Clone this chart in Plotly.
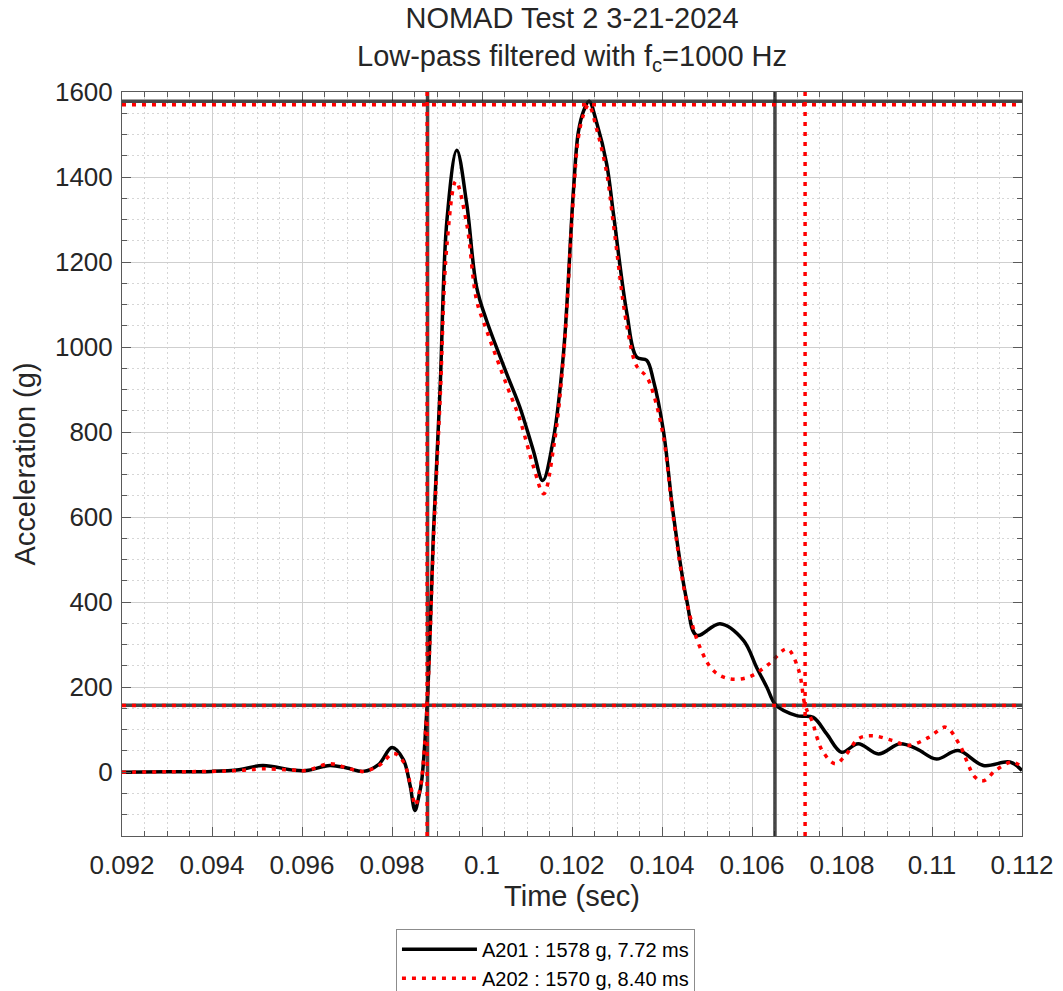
import plotly.graph_objects as go

# Sensor A201 (time in s, acceleration in g)
t_a201 = [0.0920, 0.0930, 0.0940, 0.0946, 0.09513, 0.0958, 0.0961, 0.09662, 0.0970, 0.09736,
          0.0977, 0.0980, 0.09825, 0.0984, 0.09851, 0.09860, 0.09866, 0.09878, 0.09884, 0.09892,
          0.09907, 0.09922, 0.09944, 0.09966, 0.09988, 0.10010, 0.10055, 0.10084, 0.10114, 0.10135,
          0.10158, 0.10181, 0.10203, 0.10214, 0.10226, 0.10238, 0.10255, 0.10277, 0.10292, 0.10322,
          0.10344, 0.10366, 0.10381, 0.10403, 0.10425, 0.10455, 0.10477, 0.10529, 0.10581, 0.10610,
          0.10633, 0.10653, 0.10699, 0.10736, 0.10766, 0.10799, 0.10836, 0.10881, 0.10929, 0.10966,
          0.11010, 0.11058, 0.11114, 0.11173, 0.11200]
acc_a201 = [0, 1, 2, 6, 16, 5, 4, 16, 10, 2,
            18, 58, 30, -30, -90, -55, -20, 158, 310, 561,
            906, 1298, 1463, 1337, 1141, 1063, 937, 859, 757, 686,
            780, 984, 1365, 1505, 1556, 1578, 1527, 1431, 1314, 1079,
            976, 969, 921, 804, 608, 404, 322, 349, 310, 247,
            200, 158, 133, 129, 90, 47, 67, 43, 67, 55,
            31, 51, 16, 24, 4]

# Sensor A202 (time in s, acceleration in g)
t_a202 = [0.0920, 0.0930, 0.0940, 0.0946, 0.09513, 0.0958, 0.0961, 0.09662, 0.0970, 0.09736,
          0.0977, 0.09804, 0.09825, 0.0984, 0.09852, 0.09860, 0.09866, 0.09878, 0.09884, 0.09892,
          0.09907, 0.09922, 0.09942, 0.09966, 0.09988, 0.10010, 0.10055, 0.10084, 0.10114, 0.10137,
          0.10160, 0.10181, 0.10203, 0.10214, 0.10226, 0.10237, 0.10255, 0.10277, 0.10292, 0.10322,
          0.10344, 0.10366, 0.10381, 0.10403, 0.10425, 0.10455, 0.10484, 0.10514, 0.10548, 0.10593,
          0.10638, 0.10678, 0.10704, 0.10718, 0.10733, 0.10756, 0.10785, 0.10807, 0.10837, 0.10867,
          0.10911, 0.10948, 0.10993, 0.11030, 0.11060, 0.11096, 0.11115, 0.11141, 0.11178, 0.11200]
acc_a202 = [0, 1, 2, 4, 8, 5, 4, 20, 10, 2,
            15, 44, 25, -25, -78, -50, -15, 157, 300, 540,
            880, 1240, 1390, 1290, 1110, 1040, 910, 830, 720, 655,
            770, 975, 1350, 1492, 1548, 1570, 1512, 1410, 1290, 1050,
            955, 930, 890, 790, 600, 400, 295, 239, 220, 224,
            255, 290, 239, 157, 122, 51, 20, 39, 79, 86,
            75, 63, 82, 106, 67, -12, -20, 4, 24, 12]

sensor_names = ["A201", "A202"]
peak_g = [1578, 1570]
duration_ms = [7.72, 8.40]
start_s = [0.09879, 0.09878]

x_tickvals = [0.092, 0.094, 0.096, 0.098, 0.100, 0.102, 0.104, 0.106, 0.108, 0.110, 0.112]
x_ticktext = ["0.092", "0.094", "0.096", "0.098", "0.1", "0.102", "0.104", "0.106", "0.108", "0.11", "0.112"]
y_tickvals = [0, 200, 400, 600, 800, 1000, 1200, 1400, 1600]
y_ticktext = ["0", "200", "400", "600", "800", "1000", "1200", "1400", "1600"]

FONT = "Liberation Sans, Arial, sans-serif"
RED_DOT = "4px,6px"
REF_GRAY = "rgba(30,30,30,0.82)"

fig = go.Figure()

series = [(t_a201, acc_a201, "black", "solid"), (t_a202, acc_a202, "#ff0000", RED_DOT)]
for i, (tt, aa, col, dash) in enumerate(series):
    fig.add_trace(go.Scatter(
        x=tt, y=aa, mode="lines",
        line=dict(color=col, width=3.5, dash=dash, shape="spline", smoothing=1.0),
        name=f"{sensor_names[i]} : {peak_g[i]} g, {duration_ms[i]:.2f} ms",
    ))

# Peak, 10 % threshold, and pulse start/end markers for each sensor
for i in range(2):
    is_black = i == 0
    col = REF_GRAY if is_black else "#ff0000"
    dash = "solid" if is_black else RED_DOT
    ln = dict(color=col, width=3.5, dash=dash)
    thr = 0.1 * peak_g[i]
    t_end = start_s[i] + duration_ms[i] / 1000.0
    fig.add_hline(y=peak_g[i], line=ln)
    fig.add_hline(y=thr, line=ln)
    fig.add_vline(x=start_s[i], line=ln)
    fig.add_vline(x=t_end, line=ln)

axis_common = dict(
    showline=True, linecolor="#5a5a5a", linewidth=1, mirror="ticks",
    ticks="inside", ticklen=9, tickcolor="#5a5a5a", tickwidth=1,
    showgrid=True, gridcolor="#cfcfcf", gridwidth=1.2,
    zeroline=False,
    tickfont=dict(family=FONT, size=26, color="#262626"),
)

fig.update_xaxes(
    range=[x_tickvals[0], x_tickvals[-1]],
    tickmode="array", tickvals=x_tickvals, ticktext=x_ticktext,
    ticklabelstandoff=6,
    minor=dict(dtick=0.0005, showgrid=True, gridcolor="#d6d6d6", griddash="2px,3px",
               ticks="inside", ticklen=5, tickcolor="#5a5a5a"),
    title=dict(text="Time (sec)", font=dict(family=FONT, size=29, color="#262626"), standoff=4),
    **axis_common,
)
fig.update_yaxes(
    range=[-150, 1600],
    tickmode="array", tickvals=y_tickvals, ticktext=y_ticktext,
    ticklabelstandoff=3,
    minor=dict(dtick=50, tick0=0, showgrid=True, gridcolor="#d6d6d6", griddash="2px,3px",
               ticks="inside", ticklen=5, tickcolor="#5a5a5a"),
    title=dict(text="Acceleration (g)", font=dict(family=FONT, size=29, color="#262626"), standoff=10),
    **axis_common,
)

fig.update_layout(
    width=1063, height=991,
    margin=dict(l=122, r=41, t=92, b=155, autoexpand=False),
    plot_bgcolor="white", paper_bgcolor="white",
    font=dict(family=FONT, color="#262626"),
    title=dict(text="NOMAD Test 2 3-21-2024", x=0.5, xanchor="center",
               xref="paper", yref="container", y=0.982, yanchor="middle",
               font=dict(family=FONT, size=29, color="#262626")),
    annotations=[dict(text="Low-pass filtered with f<sub>c</sub>=1000 Hz",
                      xref="paper", yref="paper", x=0.5, y=1.0453,
                      xanchor="center", yanchor="middle", showarrow=False,
                      font=dict(family=FONT, size=29, color="#262626"))],
    showlegend=True,
    legend=dict(x=0.3044, y=-0.1245, xanchor="left", yanchor="top",
                bgcolor="white", bordercolor="#8c8c8c", borderwidth=1,
                font=dict(family=FONT, size=20, color="black"),
                itemwidth=75, tracegroupgap=0),
)

fig.write_html("out.html")
